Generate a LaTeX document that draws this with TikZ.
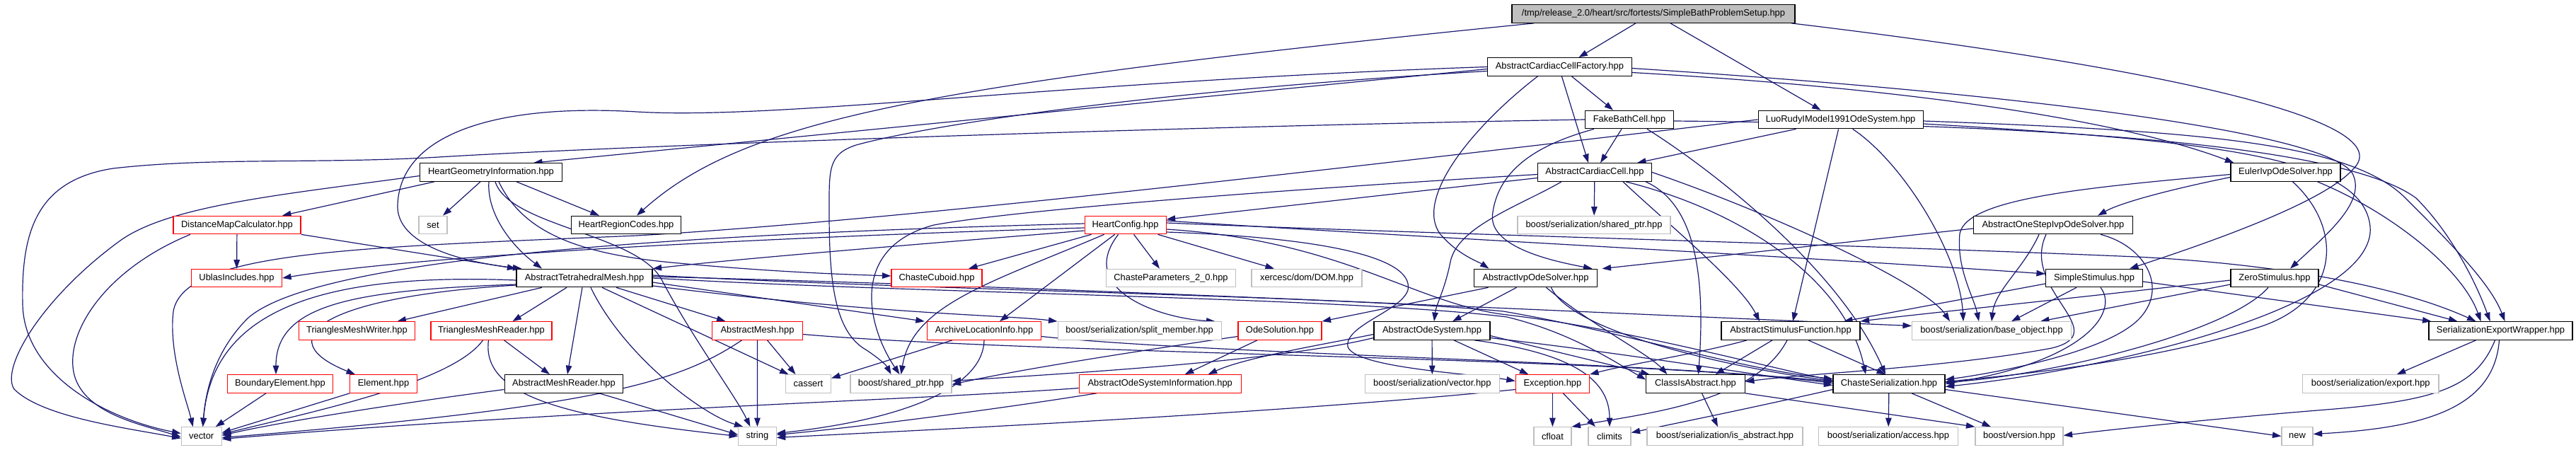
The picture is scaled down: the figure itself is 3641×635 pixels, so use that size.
\documentclass[tikz,border=0pt]{standalone}
\usepackage{fontspec}
\setmainfont{Liberation Sans}
\usetikzlibrary{arrows.meta,backgrounds}
\definecolor{edgec}{HTML}{191970}
\definecolor{greyb}{HTML}{BFBFBF}
\definecolor{rootfill}{HTML}{BFBFBF}
\begin{document}
\begin{tikzpicture}[x=1pt,y=-1pt,
  nd/.style={rectangle,draw,fill=white,line width=1.2pt,minimum height=25.5pt,inner sep=0pt,font=\fontsize{12.9pt}{15pt}\selectfont},
  bk/.style={nd,draw=black},
  rd/.style={nd,draw=red},
  gy/.style={nd,draw=greyb},
  e/.style={draw=edgec,line width=1.2pt,-{Triangle[length=12.5pt,width=8.5pt]}}]
\useasboundingbox (0,0) rectangle (3641,635);
% row 0
\node[bk,fill=rootfill,minimum width=400pt] (root) at (2337,19.5) {/tmp/release\_2.0/heart/src/fortests/SimpleBathProblemSetup.hpp};
% row 1
\node[bk,minimum width=204pt] (accf) at (2204.4,94.5) {AbstractCardiacCellFactory.hpp};
% row 2
\node[bk,minimum width=124.5pt] (fbc) at (2303,169) {FakeBathCell.hpp};
\node[bk,minimum width=233pt] (lr) at (2601.6,169) {LuoRudyIModel1991OdeSystem.hpp};
% row 3
\node[bk,minimum width=200.5pt] (hgi) at (694,243.5) {HeartGeometryInformation.hpp};
\node[bk,minimum width=161pt] (acc) at (2254,243.5) {AbstractCardiacCell.hpp};
\node[bk,minimum width=155pt] (euler) at (3230.5,243.5) {EulerIvpOdeSolver.hpp};
% row 4
\node[rd,minimum width=180pt] (dmc) at (335,318) {DistanceMapCalculator.hpp};
\node[gy,minimum width=40pt] (nset) at (612,318) {set};
\node[bk,minimum width=155pt] (hrc) at (885,318) {HeartRegionCodes.hpp};
\node[rd,minimum width=115pt] (hc) at (1590.6,318) {HeartConfig.hpp};
\node[gy,minimum width=216pt] (sersp) at (2253,318) {boost/serialization/shared\_ptr.hpp};
\node[bk,minimum width=225pt] (aosios) at (2902,318) {AbstractOneStepIvpOdeSolver.hpp};
% row 5
\node[rd,minimum width=128pt] (ublas) at (334.5,393) {UblasIncludes.hpp};
\node[bk,minimum width=192pt] (atm) at (826,393) {AbstractTetrahedralMesh.hpp};
\node[rd,minimum width=128pt] (cuboid) at (1324,393) {ChasteCuboid.hpp};
\node[gy,minimum width=183pt] (cparams) at (1655,393) {ChasteParameters\_2\_0.hpp};
\node[gy,minimum width=156pt] (xerces) at (1847,393) {xercesc/dom/DOM.hpp};
\node[bk,minimum width=174pt] (aios) at (2170.5,393) {AbstractIvpOdeSolver.hpp};
\node[bk,minimum width=137pt] (ss) at (2960,393) {SimpleStimulus.hpp};
\node[bk,minimum width=124pt] (zs) at (3215,393) {ZeroStimulus.hpp};
% row 6
\node[rd,minimum width=164pt] (tmw) at (504.5,467.5) {TrianglesMeshWriter.hpp};
\node[rd,minimum width=171pt] (tmr) at (694.5,467.5) {TrianglesMeshReader.hpp};
\node[rd,minimum width=128pt] (am) at (1070.5,467.5) {AbstractMesh.hpp};
\node[rd,minimum width=161pt] (ali) at (1391,467.5) {ArchiveLocationInfo.hpp};
\node[gy,minimum width=231pt] (split) at (1610.6,467.5) {boost/serialization/split\_member.hpp};
\node[rd,minimum width=118pt] (odesol) at (1809,467.5) {OdeSolution.hpp};
\node[bk,minimum width=164pt] (aos) at (2024,467.5) {AbstractOdeSystem.hpp};
\node[bk,minimum width=196pt] (asf) at (2531,467.5) {AbstractStimulusFunction.hpp};
\node[gy,minimum width=225pt] (baseobj) at (2815,467.5) {boost/serialization/base\_object.hpp};
\node[bk,minimum width=203pt] (sew) at (3534.5,467.5) {SerializationExportWrapper.hpp};
% row 7
\node[rd,minimum width=149.5pt] (be) at (396,542.5) {BoundaryElement.hpp};
\node[rd,minimum width=94.5pt] (elem) at (542,542.5) {Element.hpp};
\node[bk,minimum width=167.6pt] (amr) at (797,542.5) {AbstractMeshReader.hpp};
\node[gy,minimum width=64pt] (cassert) at (1142.5,542.5) {cassert};
\node[gy,minimum width=143pt] (bsp) at (1273.5,542.5) {boost/shared\_ptr.hpp};
\node[rd,minimum width=229pt] (aosi) at (1639.7,542.5) {AbstractOdeSystemInformation.hpp};
\node[gy,minimum width=190pt] (servec) at (2024.4,542.5) {boost/serialization/vector.hpp};
\node[rd,minimum width=104pt] (exc) at (2194.4,542.5) {Exception.hpp};
\node[bk,minimum width=139.7pt] (cia) at (2396.5,542.5) {ClassIsAbstract.hpp};
\node[bk,minimum width=158pt] (cs) at (2670,542.5) {ChasteSerialization.hpp};
\node[gy,minimum width=192.6pt] (nexport) at (3350.7,542.5) {boost/serialization/export.hpp};
% row 8
\node[gy,minimum width=57pt] (nvector) at (284.7,616.5) {vector};
\node[gy,minimum width=53.4pt] (nstring) at (1070.4,616.5) {string};
\node[gy,minimum width=53pt] (cfloat) at (2194.4,616.5) {cfloat};
\node[gy,minimum width=60pt] (climits) at (2275,616.5) {climits};
\node[gy,minimum width=220pt] (isabs) at (2438,616.5) {boost/serialization/is\_abstract.hpp};
\node[gy,minimum width=197pt] (access) at (2669,616.5) {boost/serialization/access.hpp};
\node[gy,minimum width=124pt] (version) at (2854,616.5) {boost/version.hpp};
\node[gy,minimum width=44pt] (nnew) at (3247,616.5) {new};

\begin{pgfonlayer}{background}
\fill[white] (0,0) rectangle (3641,635);
% root
\draw[e] ([xshift=-25pt]root.south) -- ([xshift=27pt]accf.north);
\draw[e] ([xshift=24pt]root.south) -- ([xshift=-28pt]lr.north);
\draw[e] ([xshift=-169pt]root.south) .. controls (1300,120) and (1050,170) .. ([xshift=15pt]hrc.north);
\draw[e] ([xshift=195pt]root.south) .. controls (3050,95) and (3400,170) .. (3325,240) .. controls (3280,290) and (3100,350) .. ([xshift=50pt]ss.north);
% accf
\draw[e] ([xshift=3pt]accf.south) -- ([xshift=-9pt]acc.north);
\draw[e] ([xshift=17pt]accf.south) -- ([xshift=-23pt]fbc.north);
\draw[e] ([yshift=-3pt]accf.west) -- ([xshift=60pt]hgi.north);
\draw[e] (accf.west) .. controls (1500,115) and (1100,170) .. (900,158) .. controls (700,146) and (565,190) .. (562,290) .. controls (560,345) and (650,370) .. ([xshift=8pt]atm.north west);
\draw[e] ([yshift=-6pt]accf.west) .. controls (1600,130) and (1300,180) .. (1210,205) .. controls (1170,218) and (1172,240) .. (1172,300) .. controls (1172,400) and (1180,470) .. (1225,495) .. controls (1240,505) and (1252,515) .. ([xshift=-14pt]bsp.north);
\draw[e] ([xshift=-31pt]accf.south) .. controls (2080,180) and (2000,280) .. (2035,330) .. controls (2060,360) and (2090,370) .. ([xshift=-66pt]aios.north);
\draw[e] ([yshift=-8pt]accf.east) .. controls (2700,125) and (3000,170) .. ([xshift=5pt]euler.north west);
\draw[e] ([yshift=-2pt]accf.east) .. controls (2900,135) and (3290,190) .. (3325,245) .. controls (3345,285) and (3290,330) .. ([xshift=22pt]zs.north);
% fbc
\draw[e] ([xshift=-11pt]fbc.south) -- ([xshift=8pt]acc.north);
\draw[e] (fbc.west) .. controls (1700,178) and (900,205) .. (620,222) .. controls (450,232) and (300,222) .. (160,238) .. controls (50,255) and (30,330) .. (32,430) .. controls (34,530) and (150,592) .. ([yshift=4pt]nvector.west);
\draw[e] ([yshift=-2pt]fbc.east) .. controls (2800,175) and (3300,195) .. (3415,280) .. controls (3465,330) and (3500,400) .. ([xshift=-15pt]sew.north);
\draw[e] ([xshift=25pt]fbc.south) .. controls (2420,240) and (2600,380) .. ([xshift=-5pt]cs.north);
\draw[e] ([xshift=-50pt]fbc.south) .. controls (2190,200) and (2120,230) .. (2110,300) .. controls (2100,350) and (2200,370) .. ([xshift=80pt]aios.north);
% lr
\draw[e] ([xshift=-63pt]lr.south) -- ([xshift=60pt]acc.north);
\draw[e] ([xshift=-3pt]lr.south) -- ([xshift=3pt]asf.north);
\draw[e] ([xshift=17pt]lr.south) .. controls (2690,230) and (2770,360) .. ([xshift=-40pt]baseobj.north);
\draw[e] ([yshift=-2pt]lr.east) .. controls (3100,185) and (3320,200) .. (3400,280) .. controls (3460,340) and (3520,400) .. ([xshift=6pt]sew.north);
\draw[e] ([yshift=-6pt]lr.east) .. controls (3150,200) and (3340,225) .. (3350,320) .. controls (3360,430) and (3000,520) .. ([yshift=-4pt]cs.east);
\draw[e] (lr.west) .. controls (2000,225) and (1300,310) .. (900,333) .. controls (500,350) and (260,355) .. (245,440) .. controls (238,500) and (265,570) .. ([xshift=-12pt]nvector.north);
% hgi
\draw[e] ([xshift=-80pt]hgi.south) -- ([xshift=64pt]dmc.north);
\draw[e] ([yshift=-5pt]hgi.west) .. controls (400,275) and (240,290) .. (170,340) .. controls (60,420) and (0,520) .. (20,550) .. controls (60,590) and (180,605) .. ([yshift=-3pt]nvector.west);
\draw[e] ([xshift=-15pt]hgi.south) -- ([xshift=14pt]nset.north);
\draw[e] ([xshift=36pt]hgi.south) -- ([xshift=-38pt]hrc.north);
\draw[e] ([xshift=-3pt]hgi.south) .. controls (688,300) and (720,345) .. ([xshift=-60pt]atm.north);
\draw[e] ([xshift=6pt]hgi.south) .. controls (720,320) and (900,330) .. (935,395) .. controls (980,480) and (1040,560) .. ([xshift=-10pt]nstring.north);
\draw[e] ([xshift=11pt]hgi.south) .. controls (740,330) and (820,360) .. (960,372) .. controls (1100,385) and (1200,388) .. ([yshift=3pt]cuboid.west);
% dmc
\draw[e] (dmc) -- (ublas);
\draw[e] (dmc.south east) -- (atm.north west);
\draw[e] ([xshift=-66pt]dmc.south) .. controls (150,380) and (90,470) .. (105,530) .. controls (120,585) and (200,600) .. ([yshift=-1pt]nvector.west);
% atm
\draw[e] ([xshift=-60pt]atm.south) -- ([xshift=57pt]tmw.north);
\draw[e] ([xshift=-25pt]atm.south) -- ([xshift=30pt]tmr.north);
\draw[e] ([xshift=-3pt]atm.south) -- ([xshift=5pt]amr.north);
\draw[e] ([xshift=9pt]atm.south) .. controls (880,500) and (990,585) .. ([xshift=-20pt]nstring.north);
\draw[e] ([xshift=25pt]atm.south) -- ([xshift=-28pt]cassert.north);
\draw[e] ([xshift=45pt]atm.south) -- ([xshift=-45pt]am.north);
\draw[e] ([yshift=-6pt]atm.east) -- ([xshift=-3pt]ali.north west);
\draw[e] ([yshift=-11pt]atm.east) .. controls (1250,445) and (1420,445) .. (split.north west);
\draw[e] ([yshift=-3pt]atm.west) .. controls (450,385) and (300,440) .. ([xshift=2pt]nvector.north);
\draw[e] ([yshift=-9pt]atm.west) .. controls (500,410) and (390,430) .. ([xshift=-6pt]be.north);
\draw[e] ([yshift=-10pt]atm.west) .. controls (450,420) and (380,480) .. ([xshift=-40pt]elem.north);
\draw[e] ([yshift=2pt]atm.east) .. controls (1500,405) and (2200,440) .. ([yshift=7pt]baseobj.west);
\draw[e] (atm.east) .. controls (1300,415) and (1900,420) .. (2130,448) .. controls (2220,470) and (2280,510) .. ([yshift=6pt]cia.west);
\draw[e] ([yshift=4pt]atm.east) .. controls (1300,410) and (1900,418) .. (2125,440) .. controls (2300,470) and (2450,520) .. ([yshift=7pt]cs.west);
% hc
\draw[e] ([xshift=-48pt]hc.south) -- ([xshift=45pt]cuboid.north);
\draw[e] ([xshift=-30pt]hc.south) .. controls (1400,400) and (1290,430) .. (bsp.north);
\draw[e] ([xshift=-15pt]hc.south) -- ([xshift=22pt]ali.north);
\draw[e] ([xshift=-10pt]hc.south) .. controls (1520,410) and (1640,450) .. ([xshift=107pt]split.north);
\draw[e] ([xshift=12pt]hc.south) -- ([xshift=-16pt]cparams.north);
\draw[e] ([xshift=46pt]hc.south) -- ([xshift=-46pt]xerces.north);
\draw[e] ([yshift=-4pt]hc.west) .. controls (1100,335) and (600,360) .. (ublas.east);
\draw[e] ([yshift=2pt]hc.west) .. controls (1000,330) and (450,360) .. (350,450) .. controls (300,500) and (290,560) .. ([xshift=2pt]nvector.north);
\draw[e] ([yshift=-8pt]hc.west) .. controls (1300,345) and (1050,365) .. (atm.north east);
\draw[e] ([yshift=3pt]hc.east) .. controls (2000,330) and (2600,345) .. (3020,363) .. controls (3200,372) and (3380,400) .. ([xshift=-35pt]sew.north);
\draw[e] ([yshift=6pt]hc.east) .. controls (2000,335) and (2500,360) .. ([yshift=6pt]ss.west);
\draw[e] ([yshift=-6pt]hc.east) .. controls (1900,340) and (2000,430) .. (2130,445) .. controls (2300,465) and (2480,515) .. ([yshift=5pt]cs.west);
\draw[e] ([yshift=-10pt]hc.east) .. controls (1850,335) and (2000,360) .. (1990,410) .. controls (1980,440) and (1900,460) .. (1905,490) .. controls (1915,520) and (2080,528) .. ([yshift=4pt]exc.west);
% acc
\draw[e] ([yshift=-8pt]acc.west) -- ([yshift=8pt]hc.east);
\draw[e] ([yshift=-3pt]acc.west) .. controls (1700,275) and (1420,300) .. (1320,318) .. controls (1200,350) and (1225,460) .. ([xshift=-2pt]bsp.north);
\draw[e] (acc) -- (sersp);
\draw[e] ([xshift=-47pt]acc.south) .. controls (2150,290) and (2060,320) .. (2050,370) .. controls (2042,410) and (2030,430) .. ([xshift=3pt]aos.north);
\draw[e] ([xshift=40pt]acc.south) .. controls (2350,310) and (2460,400) .. ([xshift=-44pt]asf.north);
\draw[e] ([xshift=44pt]acc.south) .. controls (2470,300) and (2610,400) .. ([xshift=-33pt]cs.north);
\draw[e] ([xshift=72pt]acc.south) .. controls (2400,290) and (2410,400) .. ([xshift=4pt]cia.north);
\draw[e] (acc.east) .. controls (2500,300) and (2720,400) .. ([xshift=-59pt]baseobj.north);
% euler
\draw[e] ([yshift=-7pt]euler.west) .. controls (3080,265) and (3000,285) .. ([xshift=63pt]aosios.north);
\draw[e] ([yshift=-3pt]euler.west) .. controls (2950,265) and (2780,280) .. (2770,330) .. controls (2765,380) and (2790,420) .. ([xshift=-18pt]baseobj.north);
\draw[e] ([xshift=10pt]euler.south) .. controls (3310,320) and (3310,420) .. (3200,460) .. controls (3050,510) and (2850,530) .. ([yshift=3pt]cs.east);
\draw[e] ([xshift=45pt]euler.south) .. controls (3380,300) and (3480,380) .. ([xshift=-28pt]sew.north);
% aosios
\draw[e] ([yshift=-5pt]aosios.west) -- ([xshift=94pt]aios.north);
\draw[e] ([xshift=-20pt]aosios.south) .. controls (2860,380) and (2820,410) .. (baseobj.north);
\draw[e] ([xshift=-10pt]aosios.south) .. controls (2855,410) and (2990,470) .. (2900,492) .. controls (2750,520) and (2550,528) .. ([yshift=3pt]cia.east);
\draw[e] ([xshift=67pt]aosios.south) .. controls (3040,350) and (3070,420) .. (3010,462) .. controls (2950,505) and (2800,530) .. ([yshift=6pt]cs.east);
% ss
\draw[e] ([yshift=-8pt]ss.west) -- ([xshift=75pt]asf.north);
\draw[e] ([xshift=-25pt]ss.south) -- ([xshift=28pt]baseobj.north);
\draw[e] ([xshift=9pt]ss.south) .. controls (2995,440) and (2950,510) .. (cs.east);
\draw[e] ([yshift=-5pt]ss.east) -- ([xshift=-98pt]sew.north);
% zs
\draw[e] ([yshift=-3pt]zs.west) .. controls (2900,425) and (2700,445) .. (asf.north east);
\draw[e] ([yshift=-9pt]zs.west) -- ([xshift=69pt]baseobj.north);
\draw[e] ([xshift=-9pt]zs.south) .. controls (3150,470) and (2900,530) .. ([yshift=2pt]cs.east);
\draw[e] ([yshift=-9pt]zs.east) -- ([xshift=-61pt]sew.north);
% aios
\draw[e] ([xshift=-67pt]aios.south) -- (odesol.north east);
\draw[e] ([xshift=-27pt]aios.south) -- ([xshift=29pt]aos.north);
\draw[e] ([xshift=15pt]aios.south) .. controls (2250,460) and (2330,500) .. ([xshift=-40pt]cia.north);
\draw[e] ([xshift=22pt]aios.south) .. controls (2220,470) and (2450,520) .. ([yshift=4pt]cs.west);
% odesol
\draw[e] ([xshift=-32pt]odesol.south) -- ([xshift=35pt]aosi.north);
\draw[e] ([yshift=-8pt]odesol.west) .. controls (1650,490) and (1450,520) .. ([yshift=-1pt]bsp.east);
% aos
\draw[e] ([yshift=-5pt]aos.west) .. controls (1880,485) and (1760,505) .. ([xshift=68pt]aosi.north);
\draw[e] (aos) -- (servec);
\draw[e] ([xshift=31pt]aos.south) -- ([xshift=-34pt]exc.north);
\draw[e] ([yshift=-7pt]aos.east) -- ([xshift=-65pt]cia.north);
\draw[e] ([xshift=60pt]aos.south) .. controls (2230,500) and (2275,540) .. (climits.north);
\draw[e] ([yshift=-10pt]aos.west) .. controls (1800,512) and (1500,528) .. ([yshift=4pt]bsp.east);
\draw[e] ([yshift=-10pt]aos.east) .. controls (2300,500) and (2450,525) .. ([yshift=-2pt]cs.west);
% aosi
\draw[e] ([yshift=-6pt]aosi.west) .. controls (1300,565) and (800,580) .. ([yshift=-4pt]nvector.east);
\draw[e] ([xshift=-90pt]aosi.south) .. controls (1400,580) and (1200,605) .. ([yshift=2pt]nstring.east);
% exc
\draw[e] (exc) -- (cfloat);
\draw[e] ([xshift=15pt]exc.south) -- ([xshift=-20pt]climits.north);
\draw[e] ([yshift=-8pt]exc.west) .. controls (1800,585) and (1300,608) .. ([yshift=-2pt]nstring.east);
% cia
\draw[e] ([xshift=9pt]cia.south) -- ([xshift=-10pt]isabs.north);
\draw[e] (cia.south east) -- (version.north west);
% cs
\draw[e] (cs) -- (access);
\draw[e] ([xshift=32pt]cs.south) -- ([xshift=-40pt]version.north);
\draw[e] ([yshift=-8pt]cs.east) -- (nnew.west);
\draw[e] ([yshift=-8pt]cs.west) .. controls (2460,580) and (2360,600) .. ([yshift=5pt]climits.east);
% sew
\draw[e] ([xshift=-35pt]sew.south) -- ([xshift=37pt]nexport.north);
\draw[e] ([xshift=-8pt]sew.south) .. controls (3500,545) and (3450,565) .. (3300,578) .. controls (3150,590) and (3000,605) .. ([yshift=1pt]version.east);
\draw[e] ([xshift=-2pt]sew.south) .. controls (3525,580) and (3420,605) .. ([yshift=3pt]nnew.east);
% asf
\draw[e] ([xshift=-62pt]asf.south) .. controls (2400,500) and (2300,515) .. (exc.north east);
\draw[e] ([xshift=-26pt]asf.south) -- ([xshift=28pt]cia.north);
\draw[e] ([xshift=25pt]asf.south) -- ([xshift=-5pt]cs.north);
\draw[e] ([xshift=-5pt]asf.south) .. controls (2480,570) and (2320,585) .. (cfloat.north east);
% ali
\draw[e] ([xshift=-45pt]ali.south) -- ([yshift=8pt]cassert.east);
\draw[e] (ali.south) .. controls (1390,540) and (1300,590) .. ([yshift=4pt]nstring.east);
\draw[e] ([yshift=-8pt]ali.east) .. controls (1700,500) and (2300,510) .. ([yshift=3pt]cs.west);
% am
\draw[e] ([xshift=14pt]am.south) -- ([xshift=-18pt]cassert.north);
\draw[e] (am) -- (nstring);
\draw[e] ([xshift=-22pt]am.south) .. controls (960,540) and (850,575) .. ([yshift=-2pt]nvector.east);
\draw[e] ([yshift=-5pt]am.east) .. controls (1450,500) and (2300,505) .. ([yshift=1pt]cs.west);
% tmr, amr, be, elem
\draw[e] ([xshift=18pt]tmr.south) -- ([xshift=-20pt]amr.north);
\draw[e] ([xshift=-4pt]tmr.south) .. controls (680,560) and (800,590) .. (nstring.west);
\draw[e] ([xshift=-12pt]tmr.south) .. controls (640,540) and (450,580) .. ([yshift=3pt]nvector.east);
\draw[e] ([xshift=50pt]amr.south) -- ([yshift=2pt]nstring.west);
\draw[e] ([yshift=-8pt]amr.west) .. controls (600,565) and (400,595) .. ([yshift=1pt]nvector.east);
\draw[e] ([xshift=-20pt]be.south) -- ([xshift=20pt]nvector.north);
\draw[e] (elem.south west) -- ([yshift=5pt]nvector.east);
\end{pgfonlayer}
\end{tikzpicture}
\end{document}
